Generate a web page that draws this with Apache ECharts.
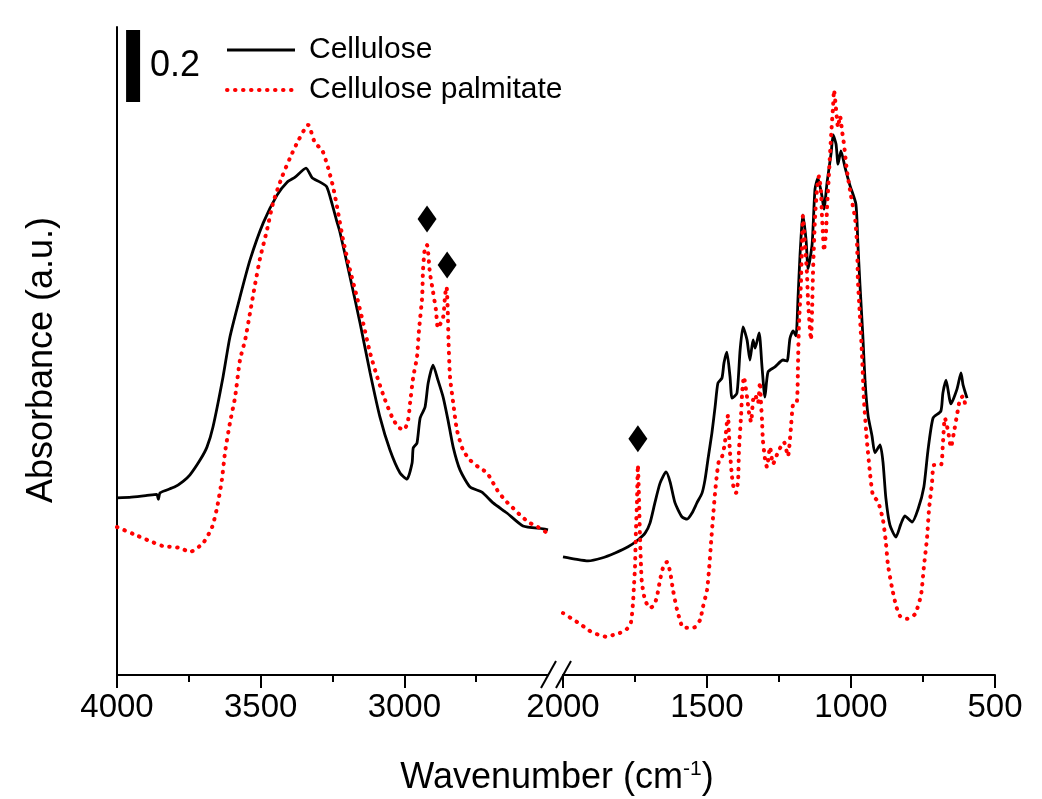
<!DOCTYPE html>
<html>
<head>
<meta charset="utf-8">
<script src="https://cdn.jsdelivr.net/npm/echarts@6/dist/echarts.min.js"></script>
<style>
html,body{margin:0;padding:0;background:#fff;}
#chart{width:1042px;height:799px;}
</style>
</head>
<body>
<div id="chart"></div>
<script>
// ---- data: [wavenumber (cm-1), absorbance] ----
const celluloseHigh = [[4000,0.492],[3950,0.494],[3900,0.498],[3862,0.502],[3856,0.488],[3850,0.506],[3800,0.522],[3770,0.538],[3746,0.556],[3711,0.597],[3687,0.633],[3666,0.689],[3631,0.828],[3607,0.939],[3572,1.05],[3537,1.153],[3491,1.256],[3443,1.333],[3408,1.369],[3380,1.383],[3342,1.408],[3321,1.381],[3293,1.369],[3270,1.356],[3252,1.31],[3235,1.26],[3224,1.23],[3189,1.106],[3154,0.977],[3119,0.839],[3085,0.717],[3050,0.625],[3015,0.561],[2991,0.544],[2973,0.589],[2969,0.631],[2956,0.644],[2945,0.714],[2928,0.744],[2917,0.811],[2900,0.861],[2883,0.819],[2865,0.772],[2848,0.708],[2830,0.633],[2806,0.569],[2771,0.522],[2730,0.508],[2691,0.478],[2643,0.45],[2587,0.414],[2517,0.406],[2500,0.403]];
const celluloseLow = [[2000,0.328],[1958,0.322],[1913,0.317],[1865,0.325],[1819,0.339],[1774,0.356],[1740,0.375],[1715,0.394],[1698,0.422],[1681,0.478],[1663,0.533],[1642,0.564],[1628,0.536],[1611,0.478],[1587,0.439],[1569,0.433],[1552,0.45],[1535,0.478],[1517,0.506],[1507,0.542],[1497,0.597],[1483,0.672],[1472,0.744],[1462,0.811],[1448,0.825],[1441,0.867],[1431,0.897],[1420,0.828],[1413,0.769],[1396,0.783],[1385,0.903],[1375,0.967],[1361,0.931],[1351,0.875],[1340,0.931],[1333,0.908],[1319,0.95],[1309,0.856],[1299,0.772],[1288,0.842],[1264,0.856],[1236,0.875],[1222,0.872],[1212,0.935],[1201,0.956],[1191,0.942],[1184,1.047],[1177,1.167],[1167,1.278],[1156,1.208],[1149,1.128],[1135,1.197],[1125,1.35],[1115,1.38],[1101,1.331],[1094,1.294],[1083,1.369],[1069,1.45],[1062,1.5],[1052,1.475],[1045,1.419],[1035,1.456],[1021,1.411],[1004,1.361],[983,1.308],[976,1.197],[969,1.086],[959,0.944],[951,0.814],[941,0.722],[927,0.664],[917,0.617],[899,0.639],[889,0.592],[879,0.492],[865,0.417],[844,0.383],[827,0.419],[813,0.442],[788,0.425],[767,0.461],[747,0.522],[733,0.622],[715,0.714],[688,0.733],[681,0.783],[670,0.819],[653,0.753],[632,0.794],[618,0.839],[611,0.806],[597,0.769]];
const palmitateHigh = [[4000,0.411],[3944,0.392],[3885,0.372],[3840,0.358],[3810,0.356],[3781,0.353],[3746,0.342],[3700,0.367],[3669,0.411],[3652,0.464],[3635,0.542],[3624,0.619],[3607,0.70],[3589,0.772],[3572,0.875],[3554,0.931],[3537,1.006],[3520,1.083],[3502,1.158],[3478,1.236],[3457,1.311],[3426,1.383],[3398,1.436],[3370,1.483],[3335,1.528],[3311,1.478],[3286,1.458],[3265,1.408],[3248,1.356],[3234,1.30],[3213,1.208],[3189,1.125],[3165,1.05],[3143,0.977],[3119,0.894],[3091,0.819],[3067,0.764],[3043,0.717],[3022,0.689],[3001,0.681],[2987,0.708],[2980,0.756],[2969,0.828],[2956,0.883],[2949,0.958],[2938,1.05],[2935,1.125],[2928,1.189],[2921,1.194],[2911,1.117],[2900,1.064],[2890,1.014],[2883,0.964],[2865,0.994],[2858,1.056],[2853,1.078],[2849,1.014],[2846,0.922],[2841,0.828],[2830,0.756],[2817,0.681],[2796,0.625],[2771,0.597],[2743,0.578],[2712,0.561],[2677,0.514],[2650,0.486],[2622,0.464],[2590,0.439],[2562,0.422],[2535,0.411],[2507,0.397],[2500,0.395]];
const palmitateLow = [[2000,0.172],[1969,0.156],[1941,0.142],[1917,0.128],[1896,0.117],[1872,0.111],[1848,0.106],[1826,0.111],[1802,0.117],[1778,0.128],[1764,0.147],[1757,0.2],[1753,0.256],[1750,0.3],[1747,0.394],[1743,0.486],[1740,0.583],[1736,0.486],[1733,0.394],[1729,0.3],[1726,0.256],[1715,0.208],[1698,0.186],[1684,0.194],[1674,0.217],[1663,0.264],[1653,0.297],[1639,0.314],[1628,0.286],[1618,0.236],[1604,0.181],[1594,0.153],[1583,0.131],[1566,0.131],[1542,0.133],[1524,0.153],[1514,0.189],[1500,0.236],[1493,0.292],[1486,0.367],[1479,0.439],[1472,0.506],[1465,0.561],[1458,0.597],[1448,0.606],[1438,0.644],[1431,0.70],[1427,0.722],[1424,0.672],[1420,0.617],[1413,0.55],[1406,0.514],[1399,0.506],[1392,0.542],[1389,0.625],[1382,0.717],[1378,0.783],[1372,0.828],[1361,0.772],[1354,0.728],[1347,0.703],[1340,0.764],[1333,0.778],[1323,0.755],[1316,0.814],[1313,0.764],[1309,0.708],[1306,0.653],[1299,0.603],[1292,0.578],[1281,0.633],[1271,0.586],[1253,0.62],[1233,0.647],[1219,0.608],[1209,0.683],[1201,0.753],[1188,0.758],[1184,0.864],[1181,0.967],[1174,1.086],[1170,1.197],[1167,1.275],[1160,1.197],[1153,1.117],[1149,1.036],[1142,0.956],[1139,0.931],[1135,1.017],[1132,1.117],[1125,1.269],[1118,1.35],[1111,1.386],[1104,1.339],[1101,1.278],[1097,1.219],[1094,1.178],[1087,1.228],[1083,1.3],[1076,1.4],[1069,1.5],[1062,1.583],[1059,1.625],[1052,1.572],[1045,1.522],[1038,1.553],[1031,1.511],[1024,1.472],[1014,1.4],[1000,1.331],[986,1.269],[979,1.197],[976,1.097],[969,0.997],[962,0.894],[955,0.764],[945,0.653],[934,0.561],[924,0.5],[906,0.481],[889,0.431],[879,0.369],[872,0.308],[858,0.244],[844,0.194],[830,0.164],[806,0.156],[778,0.169],[757,0.222],[747,0.3],[736,0.381],[729,0.461],[719,0.531],[712,0.583],[688,0.583],[681,0.642],[674,0.714],[663,0.678],[653,0.633],[643,0.672],[632,0.722],[622,0.764],[611,0.775],[601,0.739]];
const peakMarkersHigh = [[2921,1.267],[2851,1.139]];
const peakMarkersLow = [[1740,0.656]];
const scaleBar = [[3944,1.592],[3944,1.792]];
const scaleBarLabel = '0.2';
const highTicks = [4000,3500,3000];
const highMinorTicks = [3750,3250,2750];
const lowTicks = [2000,1500,1000,500];
const lowMinorTicks = [1750,1250,750];
const seriesNames = ['Cellulose','Cellulose palmitate'];
const xTitle = 'Wavenumber (cm{sup|-1})';
const yTitle = 'Absorbance (a.u.)';

const FONT = '"Liberation Sans", Arial, sans-serif';
const chart = echarts.init(document.getElementById('chart'), null, {renderer:'canvas'});

function majorAxis(grid, min, max, ticks){
  return {
    type:'value', gridIndex:grid, min:min, max:max, inverse:true, position:'bottom',
    axisLine:{show:true, onZero:false, lineStyle:{color:'#000', width:2}},
    axisTick:{show:true, customValues:ticks, length:13, lineStyle:{color:'#000', width:2}},
    axisLabel:{show:true, customValues:ticks, color:'#000', fontSize:33, fontFamily:FONT, margin:16,
               formatter:function(v){ return String(v); }},
    splitLine:{show:false}
  };
}
function minorAxis(grid, min, max, ticks){
  return {
    type:'value', gridIndex:grid, min:min, max:max, inverse:true, position:'bottom',
    axisLine:{show:false, onZero:false},
    axisTick:{show:true, customValues:ticks, length:7, lineStyle:{color:'#000', width:2}},
    axisLabel:{show:false},
    splitLine:{show:false}
  };
}

const blackStyle = {color:'#000', width:2.8};
const redStyle = {color:'#ff0000', width:4, type:[0.5,7.5], cap:'round'};

const option = {
  animation:false,
  backgroundColor:'#fff',
  grid:[
    {left:117, top:27, width:431, height:648},
    {left:563, top:27, width:432, height:648}
  ],
  xAxis:[
    majorAxis(0,2500,4000,highTicks),
    minorAxis(0,2500,4000,highMinorTicks),
    majorAxis(1,500,2000,lowTicks),
    minorAxis(1,500,2000,lowMinorTicks)
  ],
  yAxis:[
    {type:'value', gridIndex:0, min:0, max:1.8,
     axisLine:{show:true, lineStyle:{color:'#000', width:2}},
     axisTick:{show:false}, axisLabel:{show:false}, splitLine:{show:false}},
    {type:'value', gridIndex:1, min:0, max:1.8, show:false}
  ],
  legend:{
    orient:'vertical', left:225, top:35, padding:0, itemWidth:68, itemHeight:24, itemGap:10,
    data:[
      {name:seriesNames[0], lineStyle:{width:2.8, color:'#000', type:'solid'}},
      {name:seriesNames[1], lineStyle:{width:4, color:'#ff0000', type:[0.5,7.5], cap:'round'}}
    ],
    selectedMode:false,
    itemStyle:{opacity:0},
    textStyle:{fontSize:30, color:'#000', fontFamily:FONT, padding:[0,0,0,9]}
  },
  series:[
    {name:seriesNames[0], type:'line', xAxisIndex:0, yAxisIndex:0, data:celluloseHigh,
     symbol:'none', smooth:0.2, lineStyle:blackStyle, itemStyle:{color:'#000'}, z:3},
    {name:seriesNames[0], type:'line', xAxisIndex:2, yAxisIndex:1, data:celluloseLow,
     symbol:'none', smooth:0.2, lineStyle:blackStyle, itemStyle:{color:'#000'}, z:3},
    {name:seriesNames[1], type:'line', xAxisIndex:0, yAxisIndex:0, data:palmitateHigh,
     symbol:'none', smooth:0.2, lineStyle:redStyle, itemStyle:{color:'#ff0000'}, z:4},
    {name:seriesNames[1], type:'line', xAxisIndex:2, yAxisIndex:1, data:palmitateLow,
     symbol:'none', smooth:0.2, lineStyle:redStyle, itemStyle:{color:'#ff0000'}, z:4},
    {type:'scatter', xAxisIndex:0, yAxisIndex:0, data:peakMarkersHigh,
     symbol:'diamond', symbolSize:[19,27], itemStyle:{color:'#000', opacity:1}, silent:true, z:5},
    {type:'scatter', xAxisIndex:2, yAxisIndex:1, data:peakMarkersLow,
     symbol:'diamond', symbolSize:[19,27], itemStyle:{color:'#000', opacity:1}, silent:true, z:5},
    {type:'line', xAxisIndex:0, yAxisIndex:0, data:scaleBar, symbol:'none',
     lineStyle:{color:'#000', width:14, cap:'butt'}, silent:true, z:5},
    {type:'scatter', xAxisIndex:0, yAxisIndex:0,
     data:[[scaleBar[0][0], (scaleBar[0][1]+scaleBar[1][1])/2]],
     symbolSize:0, silent:true, itemStyle:{opacity:1},
     label:{show:true, position:'right', distance:17, formatter:scaleBarLabel,
            fontSize:36, color:'#000', fontFamily:FONT}}
  ],
  graphic:[
    {type:'line', shape:{x1:541, y1:688, x2:556, y2:661}, style:{stroke:'#000', lineWidth:2}, silent:true},
    {type:'line', shape:{x1:556, y1:688, x2:571, y2:661}, style:{stroke:'#000', lineWidth:2}, silent:true},
    {type:'text', x:557, y:778, silent:true,
     style:{text:xTitle, align:'center', verticalAlign:'middle', fill:'#000',
            fontSize:36, fontFamily:FONT,
            rich:{sup:{fontSize:21, fontFamily:FONT, fill:'#000', padding:[0,0,18,0]}}}},
    {type:'text', x:42, y:360, rotation:Math.PI/2, silent:true,
     style:{text:yTitle, align:'center', verticalAlign:'middle', fill:'#000',
            fontSize:36, fontFamily:FONT}}
  ]
};
chart.setOption(option);
</script>
</body>
</html>
